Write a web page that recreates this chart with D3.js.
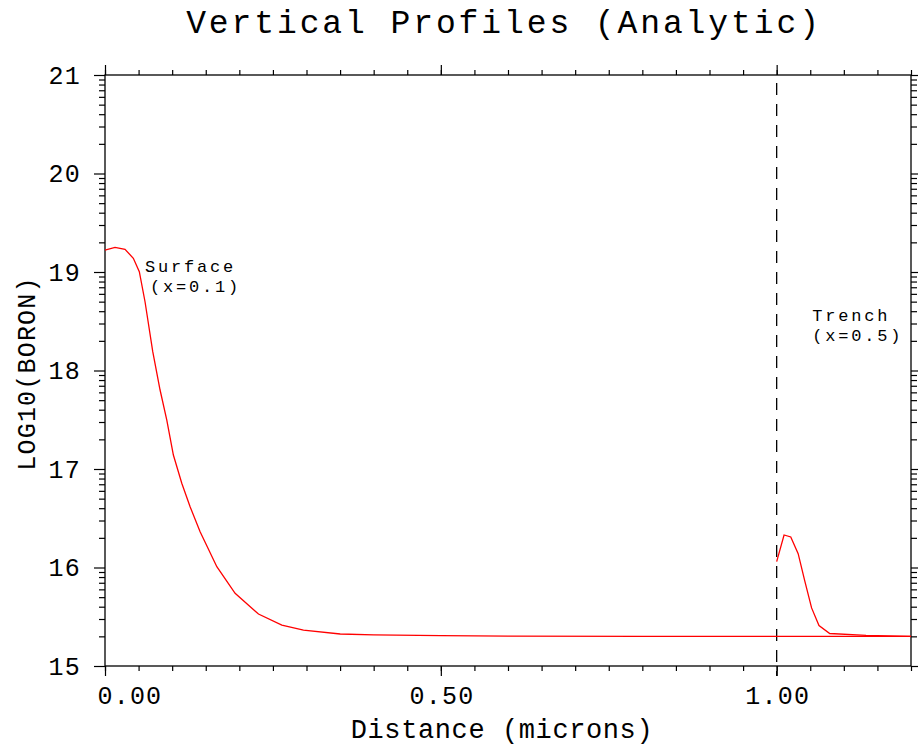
<!DOCTYPE html>
<html>
<head>
<meta charset="utf-8">
<script src="https://cdn.jsdelivr.net/npm/d3@7"></script>
<style>
  html, body { margin: 0; padding: 0; background: #fff; }
  svg text { font-family: "Liberation Mono", "DejaVu Sans Mono", monospace; fill: #000; }
</style>
</head>
<body>
<script>
// ---- data ----
const title = "Vertical Profiles (Analytic)";
const xLabel = "Distance (microns)";
const yLabel = "LOG10(BORON)";

const surfaceX = [0, 0.0149, 0.0298, 0.0422, 0.0511, 0.0596, 0.0711, 0.082, 0.092, 0.1018, 0.1143, 0.1267, 0.1416, 0.1665, 0.1937, 0.2285, 0.2633, 0.2955, 0.3502, 0.40, 0.50, 0.60, 0.80, 1.00, 1.20];
const surfaceY = [19.223, 19.249, 19.23, 19.139, 19.003, 18.698, 18.191, 17.802, 17.497, 17.142, 16.855, 16.617, 16.363, 16.008, 15.738, 15.528, 15.416, 15.365, 15.325, 15.315, 15.308, 15.303, 15.301, 15.301, 15.301];

const trenchX = [1.0, 1.011, 1.021, 1.032, 1.042, 1.052, 1.063, 1.079, 1.133, 1.2];
const trenchY = [16.06, 16.33, 16.31, 16.14, 15.86, 15.59, 15.41, 15.33, 15.31, 15.30];

const xMajorTicks = [0, 0.5, 1.0];
const xTickLabels = ["0.00", "0.50", "1.00"];
const xMinorTicks = d3.range(0, 25).map(i => i * 0.05);
const yMajorTicks = [15, 16, 17, 18, 19, 20, 21];
const yMinorTicks = [];
[15, 16, 17, 18, 19, 20].forEach(d => { for (let k = 2; k <= 9; k++) yMinorTicks.push(d + Math.log10(k)); });

const trenchMarkX = 1.0;
const annotations = [
  { lines: ["Surface", "(x=0.1)"], x: [0.0596, 0.067], y: [19.0, 18.795] },
  { lines: ["Trench", "(x=0.5)"], x: [1.053, 1.053], y: [18.5, 18.295] }
];

// ---- layout ----
const W = 918, H = 746;
const margin = { left: 105, top: 75, right: 7, bottom: 80 };
const w = W - margin.left - margin.right;
const h = H - margin.top - margin.bottom;

const svg = d3.select("body").append("svg").attr("width", W).attr("height", H);
const g = svg.append("g").attr("transform", `translate(${margin.left},${margin.top})`);

const x = d3.scaleLinear().domain([0, 1.2]).range([0, w]);
const y = d3.scaleLinear().domain([15, 21]).range([h, 0]);

function styleAxis(sel) {
  sel.select(".domain").remove();
  sel.selectAll(".tick line").attr("stroke", "#000").attr("stroke-width", 1.2);
}

// bottom
g.append("g").attr("transform", `translate(0,${h})`)
  .call(d3.axisBottom(x).tickValues(xMinorTicks).tickSize(5).tickFormat("")).call(styleAxis);
const xb = g.append("g").attr("transform", `translate(0,${h})`)
  .call(d3.axisBottom(x).tickValues(xMajorTicks).tickSize(10).tickPadding(10)
    .tickFormat((d, i) => xTickLabels[i])).call(styleAxis);
xb.selectAll(".tick text").attr("font-size", 25).attr("letter-spacing", 1.2)
  .attr("text-anchor", (d, i) => i === 0 ? "start" : "middle")
  .attr("dx", (d, i) => i === 0 ? -8 : 0.6);

// top
g.append("g")
  .call(d3.axisTop(x).tickValues(xMinorTicks).tickSize(5).tickFormat("")).call(styleAxis);
g.append("g")
  .call(d3.axisTop(x).tickValues(xMajorTicks).tickSize(10).tickFormat("")).call(styleAxis);

// left
g.append("g")
  .call(d3.axisLeft(y).tickValues(yMinorTicks).tickSize(6).tickFormat("")).call(styleAxis);
const yl = g.append("g")
  .call(d3.axisLeft(y).tickValues(yMajorTicks).tickSize(11).tickPadding(13).tickFormat(d3.format("d"))).call(styleAxis);
yl.selectAll(".tick text").attr("font-size", 25).attr("letter-spacing", 1.2);

// right
g.append("g").attr("transform", `translate(${w},0)`)
  .call(d3.axisRight(y).tickValues(yMinorTicks).tickSize(6).tickFormat("")).call(styleAxis);
g.append("g").attr("transform", `translate(${w},0)`)
  .call(d3.axisRight(y).tickValues(yMajorTicks).tickSize(11).tickFormat("")).call(styleAxis);

// frame
g.append("rect").attr("x", 0).attr("y", 0).attr("width", w).attr("height", h)
  .attr("fill", "none").attr("stroke", "#000").attr("stroke-width", 1.3);

// trench dashed marker
g.append("line")
  .attr("x1", x(trenchMarkX)).attr("x2", x(trenchMarkX))
  .attr("y1", y(21)).attr("y2", y(15) + 10)
  .attr("stroke", "#000").attr("stroke-width", 1.3)
  .attr("stroke-dasharray", "12,9").attr("stroke-dashoffset", -8);

// curves
const line = d3.line().x(d => x(d[0])).y(d => y(d[1]));
g.append("path").datum(d3.zip(surfaceX, surfaceY))
  .attr("d", line).attr("fill", "none").attr("stroke", "#ff0000").attr("stroke-width", 1.3);
g.append("path").datum(d3.zip(trenchX, trenchY))
  .attr("d", line).attr("fill", "none").attr("stroke", "#ff0000").attr("stroke-width", 1.3);

// annotations (two-line labels)
annotations.forEach(a => {
  a.lines.forEach((s, i) => {
    g.append("text").attr("x", x(a.x[i])).attr("y", y(a.y[i]))
      .attr("font-size", 17).attr("letter-spacing", 2.8).text(s);
  });
});

// title
svg.append("text").attr("x", margin.left + w / 2 - 4).attr("y", 33)
  .attr("text-anchor", "middle").attr("font-size", 33).attr("letter-spacing", 2.9).text(title);

// x label
svg.append("text").attr("x", margin.left + w / 2 - 6).attr("y", 738)
  .attr("text-anchor", "middle").attr("font-size", 27).attr("letter-spacing", 0.6).text(xLabel);

// y label
svg.append("text").attr("transform", `translate(35,${margin.top + h / 2 + 3}) rotate(-90)`)
  .attr("text-anchor", "middle").attr("font-size", 25).attr("letter-spacing", 1.2).text(yLabel);
</script>
</body>
</html>
